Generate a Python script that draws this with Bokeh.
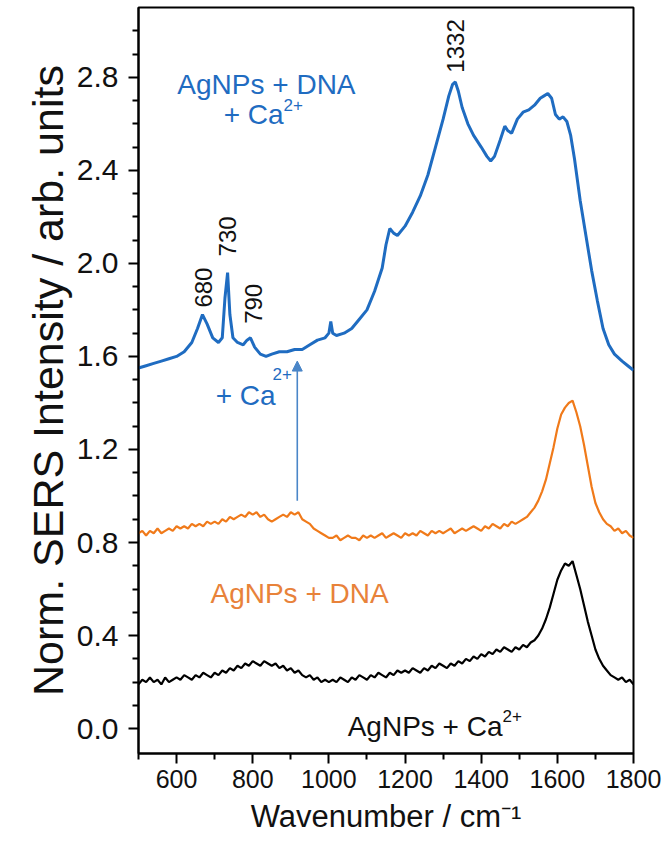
from bokeh.plotting import figure
from bokeh.models import FixedTicker, Range1d, Arrow, NormalHead, CustomJSTickFormatter
from bokeh.core.properties import value
from bokeh.embed import file_html
from bokeh.resources import INLINE
import math

# ---------------- data ----------------
blue_x = [500, 520, 540, 560, 580, 600, 620, 640, 655, 668, 680, 695, 710, 720, 727, 734, 740, 748,
          760, 775, 785, 794, 805, 820, 835, 850, 870, 890, 910, 930, 950, 970, 990, 1000, 1005, 1010,
          1020, 1040, 1060, 1080, 1100, 1120, 1140, 1150, 1160, 1170, 1180, 1200, 1220, 1240, 1260,
          1280, 1300, 1315, 1325, 1332, 1340, 1350, 1365, 1380, 1400, 1415, 1425, 1435, 1450, 1462,
          1470, 1480, 1495, 1510, 1525, 1540, 1555, 1565, 1575, 1585, 1595, 1605, 1615, 1625, 1635,
          1645, 1660, 1675, 1690, 1705, 1720, 1735, 1750, 1770, 1785, 1800]
blue_y = [1.55, 1.56, 1.57, 1.58, 1.59, 1.60, 1.62, 1.66, 1.72, 1.78, 1.74, 1.68, 1.66, 1.68, 1.85, 1.96,
          1.78, 1.68, 1.66, 1.65, 1.67, 1.68, 1.64, 1.61, 1.60, 1.61, 1.62, 1.62, 1.63, 1.63, 1.65, 1.67,
          1.68, 1.70, 1.75, 1.70, 1.69, 1.70, 1.72, 1.76, 1.80, 1.88, 1.98, 2.08, 2.15, 2.13, 2.12, 2.16,
          2.22, 2.29, 2.38, 2.50, 2.62, 2.72, 2.77, 2.78, 2.74, 2.67, 2.60, 2.55, 2.50, 2.46, 2.44, 2.46,
          2.53, 2.59, 2.57, 2.56, 2.62, 2.65, 2.66, 2.68, 2.71, 2.72, 2.73, 2.71, 2.64, 2.62, 2.63, 2.61,
          2.55, 2.45, 2.27, 2.12, 1.97, 1.84, 1.72, 1.65, 1.61, 1.58, 1.56, 1.54]

noisy_x = list(range(500, 1801, 10))
orange_y = [0.84, 0.85, 0.83, 0.85, 0.84, 0.86, 0.84, 0.85, 0.86, 0.85, 0.87,
            0.86, 0.87, 0.86, 0.88, 0.87, 0.88, 0.87, 0.89, 0.88, 0.89,
            0.88, 0.90, 0.89, 0.91, 0.90, 0.91, 0.92, 0.91, 0.93, 0.92,
            0.93, 0.91, 0.92, 0.90, 0.89, 0.90, 0.91, 0.92, 0.91, 0.93,
            0.92, 0.93, 0.90, 0.89, 0.88, 0.86, 0.85, 0.84, 0.83, 0.82,
            0.82, 0.83, 0.81, 0.82, 0.83, 0.82, 0.82, 0.81, 0.83, 0.82,
            0.83, 0.82, 0.83, 0.84, 0.82, 0.83, 0.84, 0.83, 0.82, 0.84,
            0.83, 0.84, 0.83, 0.85, 0.84, 0.83, 0.85, 0.84, 0.85, 0.84,
            0.85, 0.86, 0.84, 0.85, 0.86, 0.85, 0.86, 0.87, 0.86, 0.85,
            0.87, 0.86, 0.88, 0.87, 0.86, 0.88, 0.87, 0.89, 0.88, 0.89,
            0.90, 0.91, 0.93, 0.95, 0.98, 1.02, 1.07, 1.14, 1.21, 1.29,
            1.35, 1.38, 1.40, 1.41, 1.36, 1.30, 1.22, 1.13, 1.04, 0.97,
            0.93, 0.90, 0.88, 0.87, 0.85, 0.86, 0.84, 0.85, 0.83, 0.82]
black_y = [0.19, 0.21, 0.20, 0.22, 0.20, 0.21, 0.19, 0.22, 0.20, 0.21, 0.22,
           0.21, 0.23, 0.22, 0.21, 0.23, 0.22, 0.24, 0.23, 0.22, 0.24,
           0.23, 0.25, 0.24, 0.26, 0.25, 0.27, 0.26, 0.28, 0.27, 0.29,
           0.28, 0.27, 0.29, 0.28, 0.27, 0.28, 0.26, 0.27, 0.25, 0.26,
           0.24, 0.25, 0.23, 0.22, 0.23, 0.21, 0.22, 0.20, 0.21, 0.20,
           0.21, 0.20, 0.22, 0.21, 0.20, 0.22, 0.21, 0.23, 0.22, 0.21,
           0.23, 0.22, 0.24, 0.23, 0.22, 0.24, 0.23, 0.25, 0.24, 0.25,
           0.24, 0.26, 0.25, 0.24, 0.26, 0.25, 0.27, 0.26, 0.28, 0.27,
           0.26, 0.28, 0.27, 0.29, 0.28, 0.30, 0.29, 0.31, 0.30, 0.32,
           0.31, 0.33, 0.32, 0.34, 0.33, 0.35, 0.34, 0.33, 0.35, 0.34,
           0.36, 0.35, 0.37, 0.38, 0.40, 0.43, 0.47, 0.52, 0.58, 0.64,
           0.68, 0.71, 0.70, 0.72, 0.66, 0.60, 0.53, 0.46, 0.40, 0.34,
           0.30, 0.27, 0.25, 0.23, 0.22, 0.21, 0.22, 0.20, 0.21, 0.19]

peak_labels = ["680", "730", "790", "1332"]
peak_x = [670, 734, 802, 1332]
peak_label_y = [1.81, 2.03, 1.74, 2.82]

x_major = [600, 800, 1000, 1200, 1400, 1600, 1800]
x_minor = [500, 700, 900, 1100, 1300, 1500, 1700]
y_major = [0.0, 0.4, 0.8, 1.2, 1.6, 2.0, 2.4, 2.8]
y_minor = [0.1, 0.2, 0.3, 0.5, 0.6, 0.7, 0.9, 1.0, 1.1, 1.3, 1.4, 1.5, 1.7, 1.8, 1.9,
           2.1, 2.2, 2.3, 2.5, 2.6, 2.7, 2.9, 3.0]

arrow_x = 917
arrow_y = [0.98, 1.58]

BLUE = "#1f6cc1"
ARROW = "#4a86c8"
ORANGE = "#f07a1a"
ORANGE_TXT = "#e8823a"
FONT = "Liberation Sans"

p = figure(width=665, height=847, output_backend="svg", toolbar_location=None,
           x_range=Range1d(500, 1800), y_range=Range1d(-0.107, 3.10),
           min_border_left=138, min_border_right=32, min_border_top=7, min_border_bottom=94)
p.grid.visible = False
p.outline_line_color = "black"
p.outline_line_width = 2
p.background_fill_color = "white"
p.border_fill_color = "white"

for ax in (p.xaxis[0], p.yaxis[0]):
    ax.axis_line_width = 2
    ax.major_tick_line_width = 2
    ax.minor_tick_line_width = 2
    ax.major_tick_out = 10
    ax.major_tick_in = 0
    ax.minor_tick_out = 6
    ax.minor_tick_in = 0
    ax.major_label_text_font = FONT
    ax.major_label_text_color = "#111111"
    ax.axis_label_text_font = FONT
    ax.axis_label_text_font_style = "normal"
    ax.axis_label_text_color = "#111111"

p.xaxis.major_label_text_font_size = "25px"
p.yaxis.major_label_text_font_size = "30px"
p.xaxis.axis_label_text_font_size = "31px"
p.yaxis.axis_label_text_font_size = "43px"

p.xaxis.ticker = FixedTicker(ticks=x_major, minor_ticks=x_minor)
p.yaxis.ticker = FixedTicker(ticks=y_major, minor_ticks=y_minor)
p.yaxis.formatter = CustomJSTickFormatter(code="return tick.toFixed(1);")
p.xaxis.axis_label = "Wavenumber / cm\u207b\u00b9"
p.yaxis.axis_label = "Norm. SERS Intensity / arb. units"
p.yaxis.axis_label_standoff = 2
p.xaxis.axis_label_standoff = 8
p.xaxis.major_label_standoff = 6
p.yaxis.major_label_standoff = 10

p.line(noisy_x, black_y, line_color="black", line_width=2.2)
p.line(noisy_x, orange_y, line_color=ORANGE, line_width=2.2)
p.line(blue_x, blue_y, line_color=BLUE, line_width=3)

p.add_layout(Arrow(end=NormalHead(size=10, fill_color=ARROW, line_color=ARROW),
                   x_start=arrow_x, y_start=arrow_y[0], x_end=arrow_x, y_end=arrow_y[1],
                   line_color=ARROW, line_width=1.6))

p.text(x=peak_x, y=peak_label_y, text=peak_labels, angle=math.pi / 2,
       text_font=value(FONT), text_font_size="24px", text_align="left", text_baseline="middle",
       text_color="#111111")

# annotations: main text ends at anchor, superscript starts at anchor
def label(x, y, main, sup, color, sup_dy=-10, sup_dx=0, size="28px", sup_size="17px"):
    p.text(x=[x], y=[y], text=[main], text_font=value(FONT), text_font_size=size,
           text_align="right", text_baseline="middle", text_color=color)
    if sup:
        p.text(x=[x], y=[y], text=[sup], text_font=value(FONT), text_font_size=sup_size,
               text_align="left", text_baseline="middle", text_color=color,
               y_offset=sup_dy, x_offset=sup_dx)

p.text(x=[836], y=[2.77], text=["AgNPs + DNA"], text_font=value(FONT), text_font_size="28px",
       text_align="center", text_baseline="middle", text_color=BLUE)
label(881, 2.64, "+ Ca", "2+", BLUE)
label(860, 1.43, "+ Ca", "2+", BLUE, sup_dy=-22, sup_dx=-3)
p.text(x=[923], y=[0.58], text=["AgNPs + DNA"], text_font=value(FONT), text_font_size="28px",
       text_align="center", text_baseline="middle", text_color=ORANGE_TXT)
label(1456, 0.01, "AgNPs + Ca", "2+", "#111111")

open("out.html", "w").write(file_html(p, INLINE))
